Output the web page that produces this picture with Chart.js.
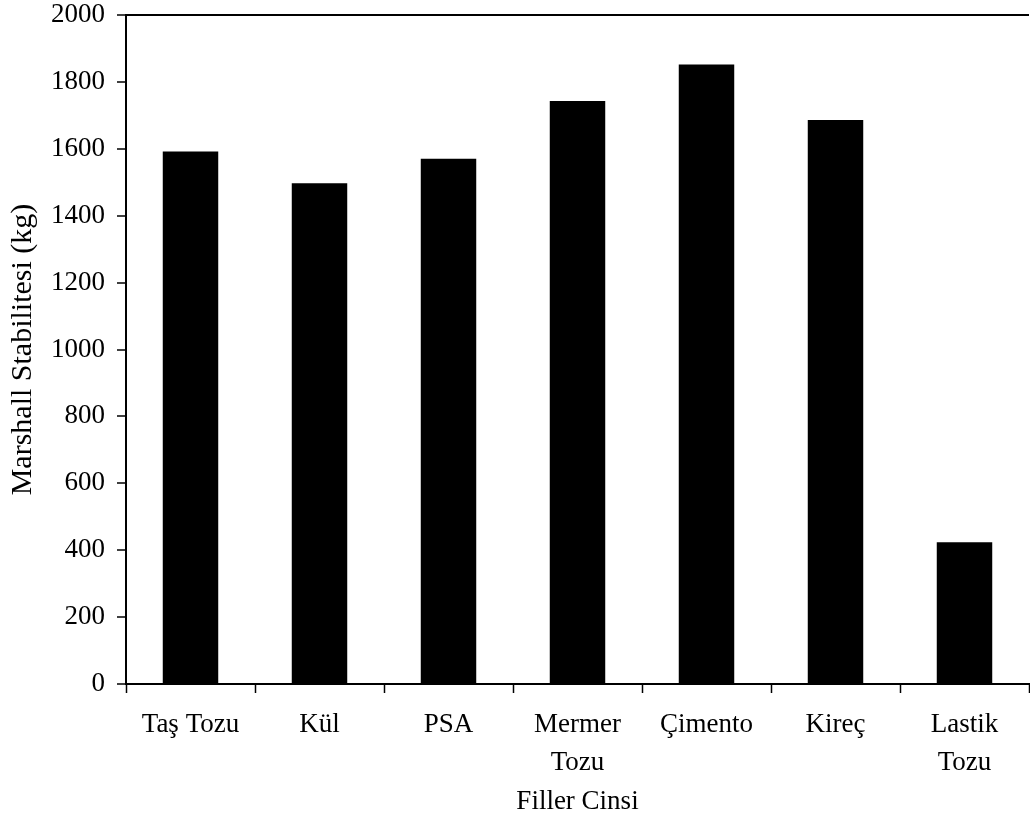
<!DOCTYPE html>
<html>
<head>
<meta charset="utf-8">
<script src="https://cdn.jsdelivr.net/npm/chart.js@4"></script>
<style>
  html, body { margin: 0; padding: 0; background: #fff; }
  #chart { display: block; }
</style>
</head>
<body>
<canvas id="chart" width="1030" height="821"></canvas>
<script>
// data
const categories = [["Taş Tozu"], ["Kül"], ["PSA"], ["Mermer", "Tozu"], ["Çimento"], ["Kireç"], ["Lastik", "Tozu"]];
const stability = [1592, 1497, 1570, 1743, 1852, 1686, 424];
const yTicks = [0, 200, 400, 600, 800, 1000, 1200, 1400, 1600, 1800, 2000];

const serif = "'Liberation Serif', 'Times New Roman', serif";

new Chart(document.getElementById("chart"), {
  type: "bar",
  data: {
    labels: categories,
    datasets: [{
      label: "Marshall Stabilitesi",
      data: stability,
      backgroundColor: "#000",
      borderWidth: 0,
      categoryPercentage: 1,
      barPercentage: 0.43
    }]
  },
  options: {
    responsive: false,
    animation: false,
    layout: { padding: { top: 15, right: 1, left: 0, bottom: 0 } },
    plugins: {
      legend: { display: false },
      tooltip: { enabled: false }
    },
    scales: {
      x: {
        grid: {
          drawOnChartArea: false,
          offset: true,
          tickLength: 9,
          tickColor: "#000",
          tickWidth: 1.5
        },
        border: { color: "#000", width: 2 },
        ticks: {
          color: "#000",
          padding: 13,
          maxRotation: 0,
          font: { family: serif, size: 27, lineHeight: 1.4 }
        },
        title: {
          display: true,
          text: "Filler Cinsi",
          color: "#000",
          padding: { top: 6, bottom: 3 },
          font: { family: serif, size: 27, lineHeight: 1.2 }
        },
        afterFit: function (scale) {
          scale.height = 137;
          scale.paddingLeft = 0;
          scale.paddingRight = 0;
        }
      },
      y: {
        min: 0,
        max: 2000,
        afterBuildTicks: function (scale) {
          scale.ticks = yTicks.map(v => ({ value: v }));
        },
        grid: {
          drawOnChartArea: true,
          color: ctx => (ctx.tick && ctx.tick.value === 2000 ? "#000" : "rgba(0,0,0,0)"),
          lineWidth: 2,
          tickLength: 9,
          tickColor: "#000",
          tickWidth: 1.5
        },
        border: { color: "#000", width: 2 },
        ticks: {
          color: "#000",
          padding: 12,
          callback: v => String(v),
          font: { family: serif, size: 27 }
        },
        title: {
          display: true,
          text: "Marshall Stabilitesi (kg)",
          color: "#000",
          padding: { top: 5, bottom: 0 },
          font: { family: serif, size: 30, lineHeight: 1.2 }
        },
        afterFit: function (scale) {
          scale.width = 126;
          scale.paddingTop = 0;
          scale.paddingBottom = 0;
        }
      }
    }
  }
});
</script>
</body>
</html>
